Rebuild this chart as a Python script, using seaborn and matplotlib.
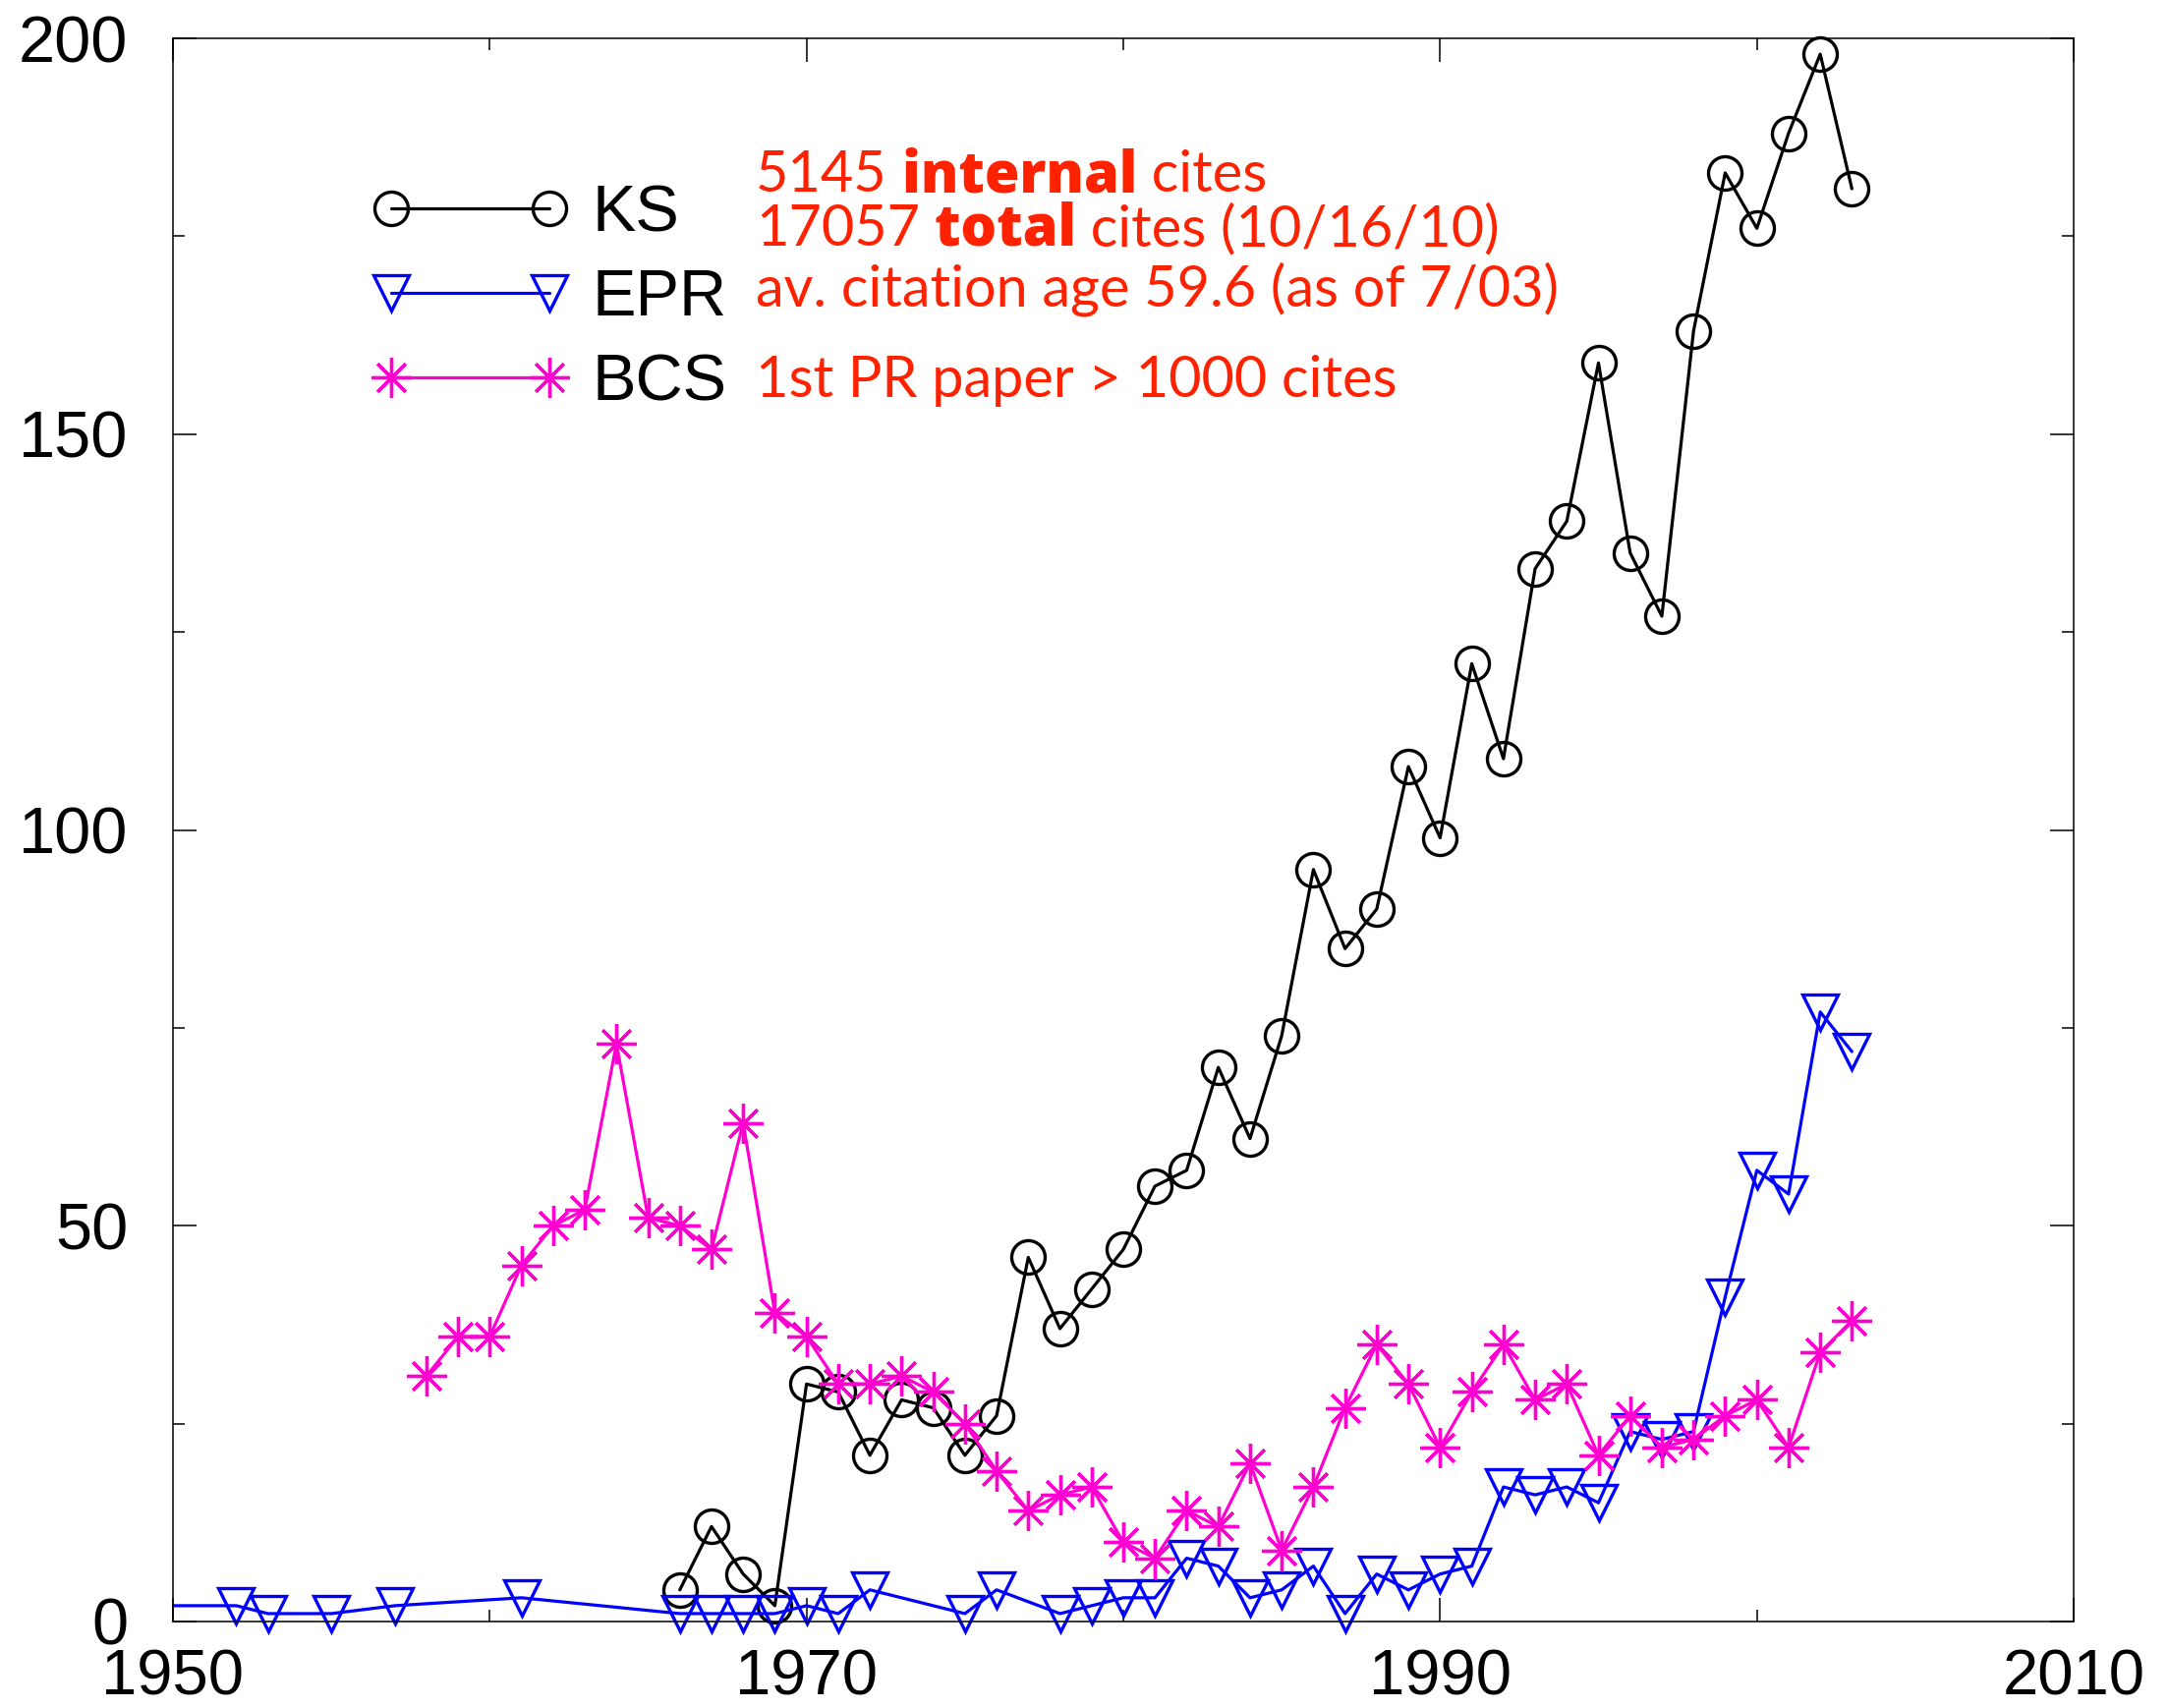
import numpy as np
import pandas as pd
import matplotlib
matplotlib.use("Agg")
import matplotlib.pyplot as plt
import seaborn as sns
from matplotlib.legend_handler import HandlerTuple
from matplotlib.ticker import MultipleLocator, FixedLocator

# ---------------- data ----------------
ks_years = list(range(1966, 2004))
ks_cites = [4, 12, 6, 2,
            30, 29, 21, 28, 27, 21, 26, 46, 37, 42,
            47, 55, 57, 70, 61, 74, 95, 85, 90, 108,
            99, 121, 109, 133, 139, 159, 135, 127, 163, 183,
            176, 188, 198, 181]

epr_years = [1949, 1952, 1953, 1955, 1957, 1961, 1966, 1967, 1968, 1969,
             1970, 1971, 1972, 1975, 1976, 1978, 1979, 1980, 1981, 1982,
             1983, 1984, 1985, 1986, 1987, 1988, 1989, 1990, 1991, 1992,
             1993, 1994, 1995, 1996, 1997, 1998, 1999, 2000, 2001, 2002, 2003]
epr_cites = [2, 2, 1, 1, 2, 3, 1, 1, 1, 1,
             2, 1, 4, 1, 4, 1, 2, 3, 3, 8,
             7, 3, 4, 7, 1, 6, 4, 6, 7, 17,
             16, 17, 15, 24, 23, 24, 41, 57, 54, 77, 72]

bcs_years = list(range(1958, 2004))
bcs_cites = [31, 36, 36, 45, 50, 52, 73, 51, 50, 47, 63, 39,
             36, 30, 30, 31, 29, 25, 19, 14, 16, 17,
             10, 8, 14, 12, 20, 9, 17, 27, 35, 30,
             22, 29, 35, 28, 30, 21, 26, 22, 23, 26,
             28, 22, 34, 38]

series_names = ["KS", "EPR", "BCS"]
x_ticks = [1950, 1970, 1990, 2010]
y_ticks = [0, 50, 100, 150, 200]

note_lines = [
    [("5145", "normal"), (" internal", "bold"), (" cites", "normal")],
    [("17057", "normal"), (" total", "bold"), (" cites (10/16/10)", "normal")],
    [("av. citation age 59.6 (as of 7/03)", "normal")],
    [("1st PR paper > 1000 cites", "normal")],
]

# ---------------- style ----------------
sns.set_theme(style="ticks")
plt.rcParams["font.family"] = ["Liberation Sans", "DejaVu Sans"]

W, H = 2206, 1738
fig = plt.figure(figsize=(W / 100, H / 100), dpi=100)
ax = fig.add_axes([176 / W, (H - 1650) / H, (2110 - 176) / W, (1650 - 39) / H])

BLACK = "#000000"
BLUE = "#0000FF"
MAGENTA = "#FF00D0"
RED = "#FF2200"
LW = 2.3
MEW = 2.4


def draw(years, vals, color, marker, ms):
    df = pd.DataFrame({"year": years, "cites": vals})
    sns.lineplot(data=df, x="year", y="cites", color=color, linewidth=LW,
                 estimator=None, ax=ax, legend=False)
    line = ax.lines[-1]
    vis = df[df["year"] >= 1950]
    sns.lineplot(data=vis, x="year", y="cites", color=color, estimator=None,
                 ax=ax, legend=False, linestyle="none", marker=marker,
                 markersize=ms, markerfacecolor="none",
                 markeredgecolor=color, markeredgewidth=MEW, clip_on=False)
    mk = ax.lines[-1]
    return line, mk


h_ks = draw(ks_years, ks_cites, BLACK, "o", 24.5)
h_epr = draw(epr_years, epr_cites, BLUE, "v", 26)
h_bcs = draw(bcs_years, bcs_cites, MAGENTA, (8, 2, 0), 29)

ax.set_xlim(1950, 2010)
ax.set_ylim(0, 200)
ax.set_xlabel("")
ax.set_ylabel("")
ax.xaxis.set_major_locator(FixedLocator(x_ticks))
ax.xaxis.set_minor_locator(MultipleLocator(10))
ax.yaxis.set_major_locator(FixedLocator(y_ticks))
ax.yaxis.set_minor_locator(MultipleLocator(25))
ax.set_xticklabels([str(v) for v in x_ticks])
ax.set_yticklabels([str(v) for v in y_ticks])
ax.tick_params(which="both", direction="in", top=True, right=True,
               color="black", width=1.1, labelsize=48, labelcolor="black")
ax.tick_params(which="major", length=17)
ax.tick_params(which="minor", length=8.6)
ax.tick_params(axis="x", which="major", pad=20, labelsize=47)
ax.tick_params(axis="y", which="major", pad=33)
for sp in ax.spines.values():
    sp.set_visible(True)
    sp.set_linewidth(1.1)
    sp.set_color("black")

# ---------------- legend ----------------
FS = 48
leg = ax.legend(handles=[h_ks, h_epr, h_bcs], labels=series_names,
                handler_map={tuple: HandlerTuple(ndivide=1, pad=0)},
                numpoints=2, frameon=False, loc="upper left",
                bbox_to_anchor=(378 / W, 1 - 187 / H),
                bbox_transform=fig.transFigure, fontsize=FS,
                handlelength=3.01, handletextpad=0.36, labelspacing=0.36,
                borderpad=0, borderaxespad=0)
for t in leg.get_texts():
    t.set_color("black")

# ---------------- red notes ----------------
note_x = 769
note_base = [195, 250, 312, 404]
NFS = 41.5
for parts, yb in zip(note_lines, note_base):
    prev = None
    for s, w in parts:
        if w == "bold":
            kw = dict(color=RED, fontsize=NFS, fontweight=800,
                      family=["Open Sans", "Lato", "DejaVu Sans"],
                      va="baseline", ha="left")
        else:
            kw = dict(color=RED, fontsize=NFS, fontweight="normal",
                      family=["Lato", "DejaVu Sans"],
                      va="baseline", ha="left")
        if prev is None:
            prev = fig.text(note_x / W, 1 - yb / H, s, **kw)
        else:
            prev = ax.annotate(s, xy=(1, 1 - yb / H),
                               xycoords=(prev, "figure fraction"),
                               annotation_clip=False, **kw)

fig.savefig("out.png", dpi=100)
